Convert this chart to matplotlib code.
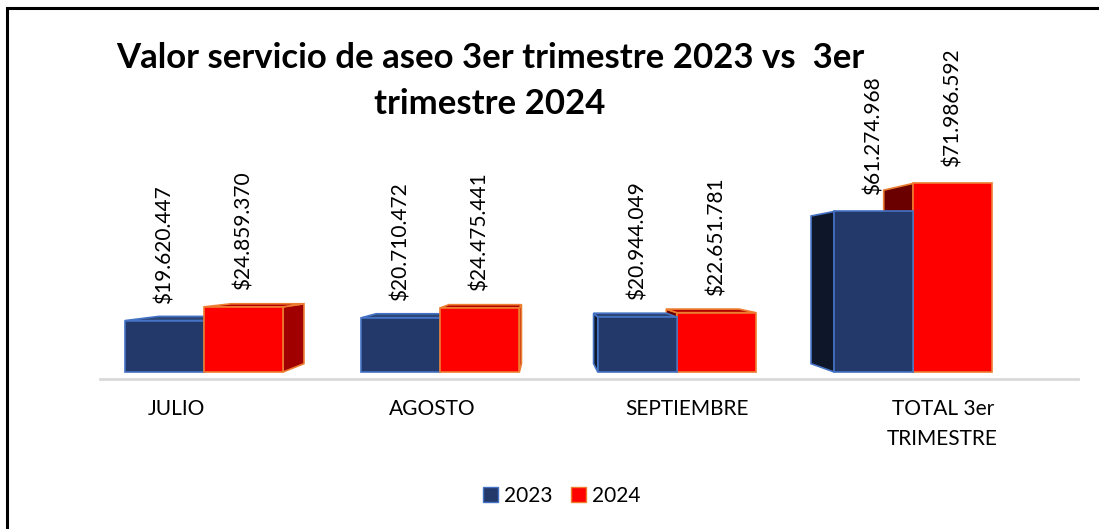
import matplotlib
matplotlib.use("Agg")
import matplotlib.pyplot as plt
from matplotlib.patches import Polygon, Patch, Rectangle
from matplotlib.lines import Line2D

plt.rcParams["font.family"] = ["Lato", "DejaVu Sans"]

categories = ["JULIO", "AGOSTO", "SEPTIEMBRE", "TOTAL 3er\nTRIMESTRE"]
years = ["2023", "2024"]
v2023 = [19620447, 20710472, 20944049, 61274968]
v2024 = [24859370, 24475441, 22651781, 71986592]

front = {"2023": "#22396A", "2024": "#FF0000"}
edge = {"2023": "#4472C4", "2024": "#ED7D31"}
side_l = {"2023": "#0E1729", "2024": "#6A0000"}
side_r = {"2023": "#17294A", "2024": "#A00000"}
top_c = {"2023": "#2B4575", "2024": "#B00000"}

fig = plt.figure(figsize=(10.99, 5.29), dpi=100)
ax = fig.add_axes([0, 0, 1, 1])

# pixel layout of the original chart
GAP = 236.4      # px between categories
PXV = 2.62e-6    # px per peso
ax.set_xlim(-204 / GAP, (1099 - 204) / GAP)
ax.set_ylim(-(529 - 372) / PXV, 372 / PXV)
ax.axis("off")

W = 79 / GAP
# fake 3d: vanishing point and depth shrink
VX, VY, S = (545 - 204) / GAP, (372 - 268) / PXV, 0.92


def back(x, y):
    return VX + S * (x - VX), VY + S * (y - VY)


def money(v):
    return "$" + f"{v:,}".replace(",", ".")


ax.axhline(-7 / PXV, xmin=100 / 1099, xmax=1078 / 1099, color="#D9D9D9", lw=2, zorder=0)

bars = []
for i in range(len(categories)):
    bars.append((i - W, v2023[i], "2023"))
    bars.append((i, v2024[i], "2024"))
# far from the vanishing point first
bars.sort(key=lambda b: -abs(b[0] + W / 2 - VX))

for x, h, yr in bars:
    kw = dict(edgecolor=edge[yr], linewidth=1.2, joinstyle="miter")
    xl, xr = x, x + W
    if xr < VX:
        pts = [(xr, 0), (xr, h), back(xr, h), back(xr, 0)]
        ax.add_patch(Polygon(pts, facecolor=side_r[yr], **kw))
    elif xl > VX:
        pts = [(xl, 0), (xl, h), back(xl, h), back(xl, 0)]
        ax.add_patch(Polygon(pts, facecolor=side_l[yr], **kw))
    if h < VY:
        pts = [(xl, h), (xr, h), back(xr, h), back(xl, h)]
        ax.add_patch(Polygon(pts, facecolor=top_c[yr], **kw))
    ax.add_patch(Rectangle((xl, 0), W, h, facecolor=front[yr], **kw))
    ax.annotate(money(h), (x + W / 2, h), xytext=(0, 12), textcoords="offset points",
                rotation=90, ha="center", va="bottom", fontsize=15, color="black")

for i, c in enumerate(categories):
    ax.text(VX + 1.08 * (i - VX), -(399 - 372) / PXV, c, ha="center", va="top",
            fontsize=15, linespacing=1.6, multialignment="center")

fig.text(490 / 1099, 1 - 42 / 529, "Valor servicio de aseo 3er trimestre 2023 vs  3er\ntrimestre 2024",
         ha="center", va="top", fontsize=25, fontweight="bold", linespacing=1.55)

handles = [Patch(facecolor=front[y], edgecolor=edge[y], label=y) for y in years]
fig.legend(handles=handles, loc="center", bbox_to_anchor=(562 / 1099, 1 - 496 / 529), ncol=2,
           frameon=False, fontsize=15, handlelength=0.7, handleheight=0.7,
           handletextpad=0.3, columnspacing=0.9)

# outer frame: only top and left edges fall inside the picture
bx, by = 7 / 1099, 1 - 8 / 529
fig.add_artist(Line2D([bx, bx, 1.0], [0.0, by, by], transform=fig.transFigure,
                      color="black", linewidth=2.2, solid_joinstyle="miter"))

fig.savefig("out.png", dpi=100)
